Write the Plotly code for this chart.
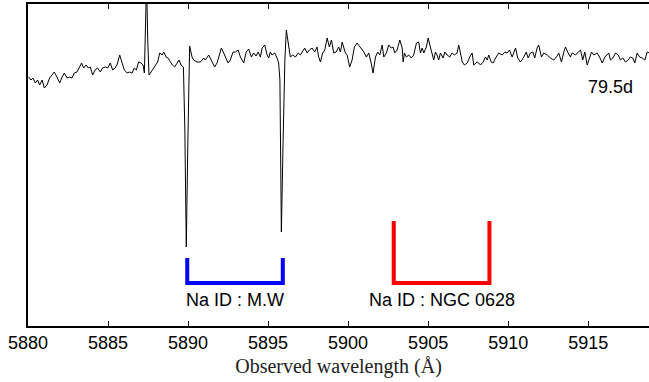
import plotly.graph_objects as go

# ---- Spectrum (observed wavelength in Angstrom, flux in arbitrary units) ----
wl_a = [5880.04, 5880.19, 5880.31, 5880.46, 5880.60, 5880.73, 5880.88, 5881.02, 5881.19, 5881.35,
        5881.50, 5881.64, 5881.81, 5881.98, 5882.13, 5882.27, 5882.44, 5882.60, 5882.75, 5882.89,
        5883.06, 5883.21, 5883.35, 5883.48, 5883.63, 5883.77, 5883.89, 5884.04, 5884.19, 5884.35,
        5884.52, 5884.66, 5884.83, 5884.98, 5885.14, 5885.29, 5885.44, 5885.56, 5885.73, 5885.88,
        5886.02, 5886.19, 5886.35, 5886.50, 5886.64, 5886.77, 5886.91, 5887.06, 5887.19, 5887.27,
        5887.35, 5887.41, 5887.48, 5887.56, 5887.69, 5887.85, 5887.96, 5888.10, 5888.23, 5888.38,
        5888.48, 5888.63, 5888.75, 5888.89, 5889.02, 5889.16, 5889.31, 5889.44, 5889.56, 5889.71,
        5889.80, 5889.89, 5889.99, 5890.10]
fx_a = [2.49, 2.46, 2.48, 2.43, 2.46, 2.41, 2.46, 2.38, 2.41, 2.48,
        2.51, 2.54, 2.49, 2.43, 2.49, 2.53, 2.48, 2.49, 2.48, 2.53,
        2.54, 2.59, 2.63, 2.58, 2.61, 2.58, 2.59, 2.51, 2.56, 2.58,
        2.54, 2.58, 2.59, 2.58, 2.63, 2.56, 2.58, 2.61, 2.71, 2.63,
        2.56, 2.53, 2.54, 2.53, 2.58, 2.56, 2.64, 2.63, 2.61, 2.53,
        2.93, 3.46, 2.86, 2.51, 2.54, 2.58, 2.61, 2.64, 2.73, 2.71,
        2.74, 2.69, 2.68, 2.64, 2.61, 2.59, 2.63, 2.66, 2.61, 2.59,
        1.96, 0.79, 1.86, 2.80]

wl_b = [5890.25, 5890.35, 5890.56, 5890.77, 5890.98, 5891.08, 5891.29, 5891.46, 5891.66, 5891.81,
        5891.91, 5892.08, 5892.23, 5892.33, 5892.50, 5892.64, 5892.81, 5892.96, 5893.13, 5893.27,
        5893.48, 5893.63, 5893.79, 5893.96, 5894.10, 5894.25, 5894.38, 5894.52, 5894.63, 5894.79,
        5894.94, 5895.04, 5895.14, 5895.25, 5895.41, 5895.56, 5895.66, 5895.74, 5895.83, 5895.94,
        5896.05, 5896.14]
fx_b = [2.69, 2.66, 2.64, 2.64, 2.68, 2.66, 2.71, 2.66, 2.59, 2.63,
        2.68, 2.78, 2.73, 2.69, 2.63, 2.66, 2.74, 2.74, 2.76, 2.69,
        2.63, 2.74, 2.77, 2.69, 2.73, 2.70, 2.74, 2.69, 2.78, 2.81,
        2.71, 2.68, 2.74, 2.71, 2.73, 2.68, 2.63, 2.46, 0.94, 1.86,
        2.66, 2.96]

wl_c = [5896.29, 5896.39, 5896.54, 5896.71, 5896.88, 5897.02, 5897.13, 5897.29, 5897.44, 5897.58,
        5897.75, 5897.91, 5898.06, 5898.16, 5898.27, 5898.41, 5898.54, 5898.69, 5898.83, 5898.96,
        5899.10, 5899.25, 5899.41, 5899.52, 5899.63, 5899.83, 5899.94, 5900.10, 5900.25, 5900.39,
        5900.56, 5900.66, 5900.81, 5900.98, 5901.14, 5901.29, 5901.44, 5901.56, 5901.71, 5901.85,
        5901.98, 5902.13, 5902.23, 5902.39, 5902.54, 5902.69, 5902.81, 5902.91, 5903.06, 5903.23,
        5903.38, 5903.44, 5903.52, 5903.64, 5903.79, 5903.94, 5904.10, 5904.27, 5904.41, 5904.52,
        5904.63, 5904.73, 5904.89, 5905.00, 5905.14, 5905.25, 5905.35, 5905.46, 5905.56, 5905.66,
        5905.77, 5905.94, 5906.04, 5906.19, 5906.35, 5906.50, 5906.64, 5906.81, 5906.91, 5907.02,
        5907.13, 5907.27, 5907.44, 5907.60, 5907.75, 5907.85, 5907.96, 5908.06, 5908.16, 5908.27,
        5908.44, 5908.58, 5908.69, 5908.79, 5908.94, 5909.06, 5909.21]
fx_c = [2.79, 2.69, 2.71, 2.69, 2.73, 2.71, 2.74, 2.78, 2.73, 2.76,
        2.78, 2.74, 2.79, 2.69, 2.64, 2.73, 2.76, 2.88, 2.79, 2.86,
        2.73, 2.74, 2.79, 2.74, 2.84, 2.73, 2.71, 2.59, 2.66, 2.79,
        2.83, 2.81, 2.78, 2.74, 2.69, 2.73, 2.63, 2.53, 2.69, 2.74,
        2.71, 2.81, 2.69, 2.73, 2.81, 2.78, 2.79, 2.73, 2.76, 2.86,
        2.78, 2.64, 2.73, 2.69, 2.71, 2.68, 2.71, 2.83, 2.84, 2.73,
        2.78, 2.73, 2.79, 2.88, 2.79, 2.71, 2.66, 2.74, 2.71, 2.66,
        2.73, 2.68, 2.74, 2.71, 2.69, 2.73, 2.71, 2.73, 2.81, 2.73,
        2.64, 2.61, 2.63, 2.69, 2.73, 2.61, 2.63, 2.64, 2.63, 2.61,
        2.64, 2.69, 2.66, 2.71, 2.64, 2.63, 2.68]

wl_d = [5909.41, 5909.63, 5909.79, 5909.94, 5910.08, 5910.25, 5910.35, 5910.46, 5910.60, 5910.77,
        5910.98, 5911.13, 5911.25, 5911.39, 5911.54, 5911.66, 5911.81, 5911.91, 5912.08, 5912.23,
        5912.44, 5912.64, 5912.85, 5913.02, 5913.16, 5913.33, 5913.48, 5913.58, 5913.75, 5913.89,
        5914.00, 5914.21, 5914.38, 5914.52, 5914.66, 5914.79, 5914.94, 5915.08, 5915.21, 5915.35,
        5915.56, 5915.71, 5915.88, 5916.04, 5916.19, 5916.29, 5916.39, 5916.54, 5916.71, 5916.88,
        5917.02, 5917.16, 5917.33, 5917.50, 5917.64, 5917.79, 5917.91, 5918.06, 5918.21, 5918.38,
        5918.54, 5918.69, 5918.83]
fx_d = [2.73, 2.71, 2.74, 2.73, 2.76, 2.69, 2.73, 2.78, 2.68, 2.64,
        2.69, 2.74, 2.68, 2.73, 2.74, 2.68, 2.78, 2.81, 2.69, 2.73,
        2.71, 2.68, 2.66, 2.69, 2.73, 2.64, 2.74, 2.79, 2.73, 2.69,
        2.73, 2.71, 2.74, 2.76, 2.66, 2.74, 2.61, 2.69, 2.74, 2.71,
        2.73, 2.69, 2.63, 2.69, 2.71, 2.73, 2.66, 2.68, 2.73, 2.71,
        2.66, 2.68, 2.64, 2.66, 2.69, 2.68, 2.63, 2.73, 2.69, 2.68,
        2.66, 2.74, 2.73]

wavelength = wl_a + wl_b + wl_c + wl_d
flux = fx_a + fx_b + fx_c + fx_d

# ---- Na I D identifications ----
mw_lines = [5889.95, 5895.92]      # Milky Way Na I D2, D1
ngc_lines = [5902.85, 5908.83]     # NGC 0628 Na I D2, D1
bracket_base = 0.43
mw_top = 0.68
ngc_top = 1.05
mw_label = "Na ID : M.W"
ngc_label = "Na ID : NGC 0628"
label_y = 0.26
epoch_label = "79.5d"
epoch_pos = (5916.4, 2.39)

x_ticks = [5880, 5885, 5890, 5895, 5900, 5905, 5910, 5915]
x_range = [5880, 5918.8]
y_range = [0, 3.22]

sans = "Liberation Sans, Arial, sans-serif"
serif = "Liberation Serif, Times New Roman, serif"

fig = go.Figure()
fig.add_trace(go.Scatter(x=wavelength, y=flux, mode="lines",
                         line=dict(color="black", width=1), showlegend=False,
                         hoverinfo="skip"))


def bracket(lines, top, color):
    return go.Scatter(x=[lines[0], lines[0], lines[1], lines[1]],
                      y=[top, bracket_base, bracket_base, top],
                      mode="lines", line=dict(color=color, width=4),
                      showlegend=False, hoverinfo="skip")


fig.add_trace(bracket(mw_lines, mw_top, "#0000ff"))
fig.add_trace(bracket(ngc_lines, ngc_top, "#ff0000"))

fig.add_annotation(x=sum(mw_lines) / 2, y=label_y, text=mw_label, showarrow=False,
                   font=dict(family=sans, size=18, color="black"))
fig.add_annotation(x=sum(ngc_lines) / 2, y=label_y, text=ngc_label, showarrow=False,
                   font=dict(family=sans, size=18, color="black"))
fig.add_annotation(x=epoch_pos[0], y=epoch_pos[1], text=epoch_label, showarrow=False,
                   font=dict(family=sans, size=18, color="black"))

fig.update_layout(
    width=649, height=382,
    margin=dict(l=28, r=0, t=4, b=56),
    paper_bgcolor="white", plot_bgcolor="white",
    xaxis=dict(range=x_range, tickvals=x_ticks, ticktext=[str(t) for t in x_ticks],
               ticks="inside", ticklen=5, tickwidth=1, tickcolor="black",
               showline=True, linecolor="black", linewidth=1.5, mirror="ticks",
               showgrid=False, zeroline=False,
               tickfont=dict(family=sans, size=18, color="black"),
               ticklabelstandoff=0,
               title=dict(text="Observed wavelength (Å)", standoff=7,
                          font=dict(family=serif, size=20, color="#222222"))),
    yaxis=dict(range=y_range, showline=True, linecolor="black", linewidth=1.5,
               mirror=False, ticks="", showticklabels=False,
               showgrid=False, zeroline=False),
)

fig.write_html("out.html", config={"displayModeBar": False},
               post_script="document.body.style.margin='0';document.body.style.overflow='hidden';")
